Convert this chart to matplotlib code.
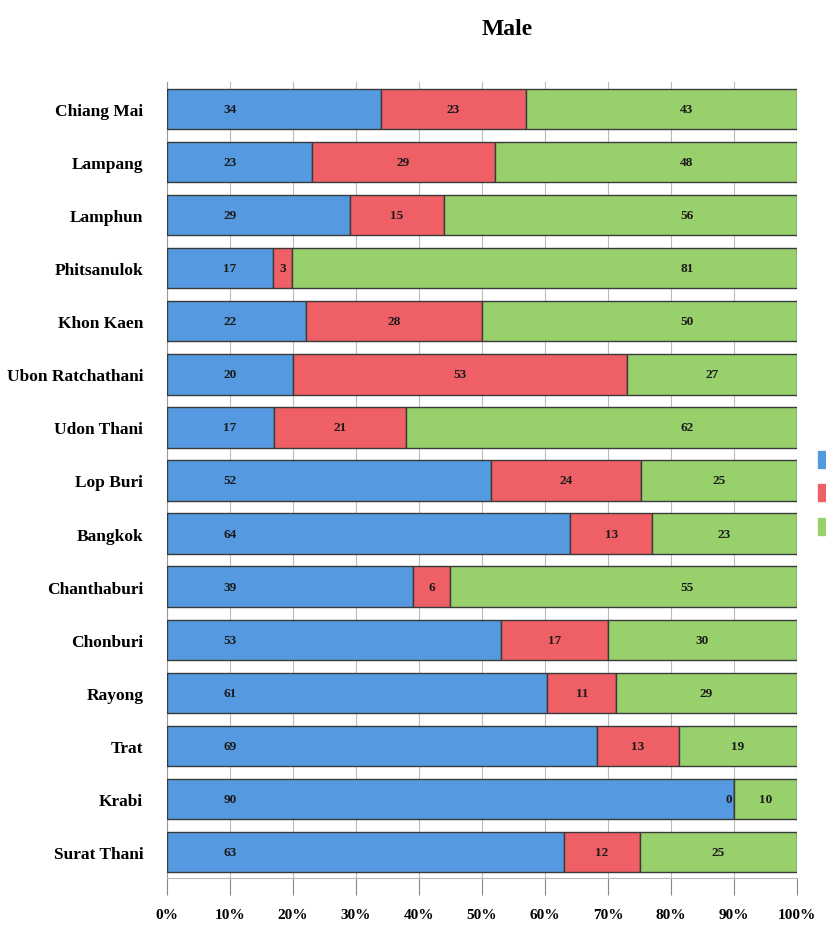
import numpy as np
import matplotlib.pyplot as plt

# provinces, top to bottom
provinces = ['Chiang Mai', 'Lampang', 'Lamphun', 'Phitsanulok', 'Khon Kaen',
             'Ubon Ratchathani', 'Udon Thani', 'Lop Buri', 'Bangkok', 'Chanthaburi',
             'Chonburi', 'Rayong', 'Trat', 'Krabi', 'Surat Thani']
blue_vals = [34, 23, 29, 17, 22, 20, 17, 52, 64, 39, 53, 61, 69, 90, 63]
red_vals = [23, 29, 15, 3, 28, 53, 21, 24, 13, 6, 17, 11, 13, 0, 12]
green_vals = [43, 48, 56, 81, 50, 27, 62, 25, 23, 55, 30, 29, 19, 10, 25]
xticks = [0, 10, 20, 30, 40, 50, 60, 70, 80, 90, 100]

plt.rcParams['font.family'] = ['Liberation Serif', 'DejaVu Serif']
plt.rcParams['font.weight'] = 'bold'

blue = np.array(blue_vals, dtype=float)
red = np.array(red_vals, dtype=float)
green = np.array(green_vals, dtype=float)
tot = blue + red + green
b_pct = blue / tot * 100
r_pct = red / tot * 100
g_pct = green / tot * 100

fig = plt.figure(figsize=(8.26, 9.37), dpi=100)
ax = fig.add_axes([0.202, 0.0614, 0.763, 0.8495])

y = np.arange(len(provinces))
h = 0.76
edge = '#3a3a3a'
cols = ['#559ae0', '#ef5f66', '#98d06c']
ax.barh(y, b_pct, height=h, color=cols[0], edgecolor=edge, linewidth=1.0, zorder=3)
ax.barh(y, r_pct, left=b_pct, height=h, color=cols[1], edgecolor=edge, linewidth=1.0, zorder=3)
ax.barh(y, g_pct, left=b_pct + r_pct, height=h, color=cols[2], edgecolor=edge, linewidth=1.0, zorder=3)

for i in range(len(provinces)):
    ax.text(10, y[i], str(blue_vals[i]), ha='center', va='center', fontsize=9.5,
            fontweight='bold', color='#1a1a1a', zorder=4)
    rc = b_pct[i] + r_pct[i] / 2
    if red_vals[i] == 0:
        rc = b_pct[i] - 0.8
    ax.text(rc, y[i], str(red_vals[i]), ha='center', va='center', fontsize=9.5,
            fontweight='bold', color='#1a1a1a', zorder=4)
    gc = max(82.5, b_pct[i] + r_pct[i] + g_pct[i] / 2)
    ax.text(gc, y[i], str(green_vals[i]), ha='center', va='center', fontsize=9.5,
            fontweight='bold', color='#1a1a1a', zorder=4)

ax.set_xlim(0, 100)
ax.set_ylim(len(provinces) - 0.5, -0.5)
ax.set_yticks(y)
ax.set_yticklabels(provinces, fontsize=12.5, fontweight='bold')
ax.set_xticks(xticks)
ax.set_xticklabels([f'{t}%' for t in xticks], fontsize=11, fontweight='bold')
ax.tick_params(axis='x', length=12, pad=9, color='#888888')
ax.tick_params(axis='y', length=0, pad=17)
ax.grid(axis='x', color='#bbbbbb', linewidth=0.8, zorder=0)
for s in ['top', 'right']:
    ax.spines[s].set_visible(False)
ax.spines['left'].set_color('#999999')
ax.spines['bottom'].set_color('#bbbbbb')

fig.text(0.614, 0.968, 'Male', ha='center', va='center', fontsize=17, fontweight='bold')

# legend (cut off at the right edge in the reference)
handles = [plt.Rectangle((0, 0), 1, 1, color=c) for c in cols]
fig.legend(handles, [' ', ' ', ' '], loc='upper left', bbox_to_anchor=(0.99, 0.518),
           frameon=False, borderpad=0, borderaxespad=0, handlelength=1.2,
           handleheight=1.5, labelspacing=1.2)

fig.savefig('out.png', dpi=100)
